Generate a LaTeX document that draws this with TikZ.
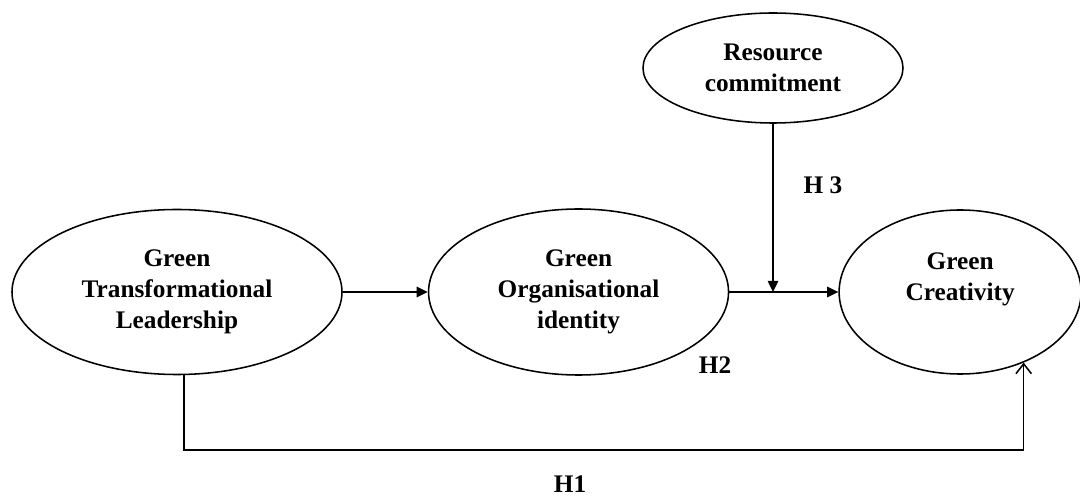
\documentclass[tikz,border=0pt]{standalone}
\usepackage{fontspec}
\setmainfont{Liberation Serif}
\usetikzlibrary{positioning,shapes.geometric,arrows.meta}

\begin{document}
\begin{tikzpicture}[x=0.25mm, y=-0.25mm, font=\bfseries\fontsize{18}{22}\selectfont,
    construct/.style = {ellipse, draw, line width=1.1pt, align=center, inner sep=0pt},
    effect/.style = {line width=1.1pt, -{Triangle[length=8pt,width=7.5pt]}},
    direct/.style = {line width=1.1pt, -{Straight Barb[length=7pt,width=11pt]}}]
    \useasboundingbox (0,0) rectangle (1080,500);
    \node[construct, minimum width=82.5mm, minimum height=41.25mm] (gtl) at (177,292) {Green\\Transformational\\Leadership};
    \node[construct, minimum width=75mm, minimum height=41.5mm] (goi) [right=21.25mm of gtl] {Green\\Organisational\\identity};
    \node[construct, minimum width=60.5mm, minimum height=41mm] (gc) [right=27.25mm of goi] {Green\\Creativity\\\mbox{}};
    \node[construct, minimum width=65mm, minimum height=27.5mm] (rc) at (773,68) {Resource\\commitment};
    \coordinate (h1base) at (0,450);
    \path[effect] (gtl) edge (goi);
    \path[effect] (goi) edge (gc);
    \draw[effect] (rc) -- (rc |- goi.east);
    \draw[direct] (gtl.-85) -- (gtl.-85 |- h1base) -| (gc.-48);
    \node (h3) at (823,185) {H 3};
    \node (h2) at (715,365) {H2};
    \node (h1) at (570,484) {H1};
\end{tikzpicture}
\end{document}
